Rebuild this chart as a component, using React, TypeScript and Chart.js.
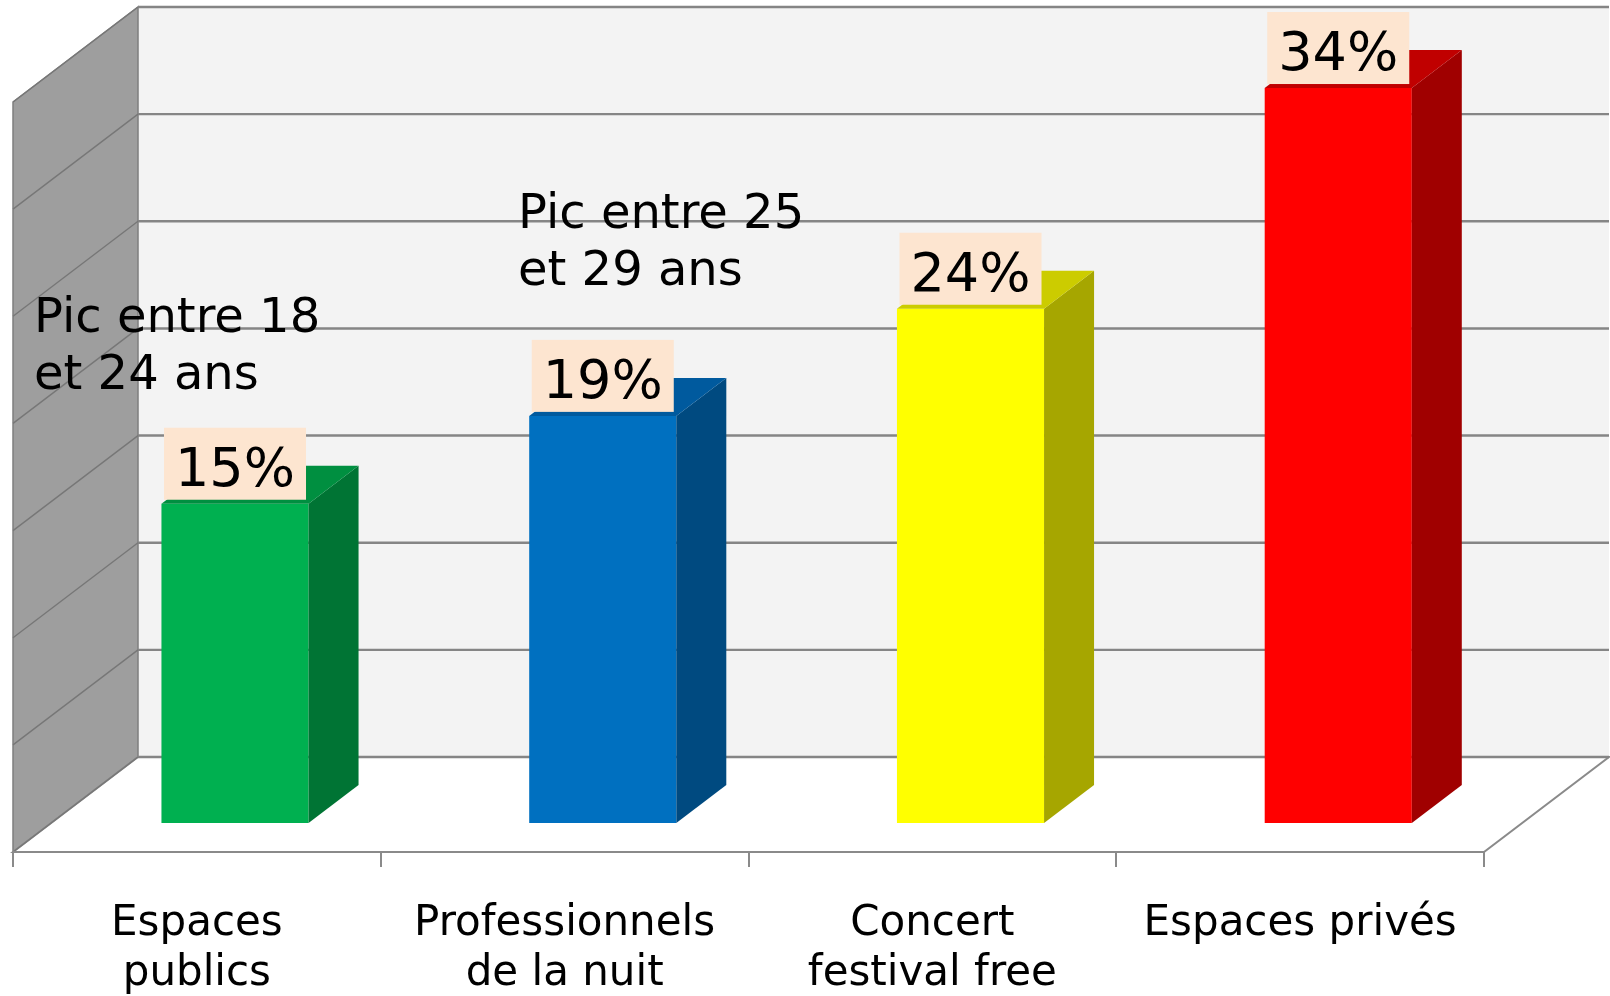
import React, { useEffect, useRef } from 'react';
import { Chart, registerables } from 'chart.js';

Chart.register(...registerables);

// ---------- data ----------
const CATEGORIES: (string | string[])[] = [
  ['Espaces', 'publics'],
  ['Professionnels', 'de la nuit'],
  ['Concert', 'festival free'],
  'Espaces privés',
];
const VALUES = [14.9, 19, 24, 34.3];
const VALUE_LABELS = ['15%', '19%', '24%', '34%'];
const ANNOTATIONS = [
  ['Pic entre 18', 'et 24 ans'],
  ['Pic entre 25', 'et 29 ans'],
];
const Y_MIN = 0;
const Y_MAX = 35;
const Y_STEP = 5;

// ---------- style ----------
const FRONT_COLORS = ['#00b050', '#0070c0', '#ffff00', '#ff0000'];
const TOP_COLORS = ['#008f40', '#005a9e', '#cccc00', '#c00000'];
const SIDE_COLORS = ['#007434', '#004a80', '#a6a600', '#a00000'];
const FONT = '"DejaVu Sans", Verdana, sans-serif';
const DEPTH = { x: 125, y: -95 }; // full depth of the 3D box
const BAR_Z = 0.305; // depth where bar front faces stand
const BAR_DEPTH = 0.4; // bar thickness (fraction of full depth)
const ANNOTATION_POS = [
  { x: 34, y: 332 },
  { x: 518, y: 228 },
];
const ANNOTATION_LINE_H = 57;

const poly = (ctx: CanvasRenderingContext2D, pts: number[][]) => {
  ctx.beginPath();
  ctx.moveTo(pts[0][0], pts[0][1]);
  for (let i = 1; i < pts.length; i++) ctx.lineTo(pts[i][0], pts[i][1]);
  ctx.closePath();
};

const threeD = {
  id: 'threeD',
  beforeDraw(chart: any) {
    const { ctx, chartArea: a } = chart;
    const ys = chart.scales.y;
    const dx = DEPTH.x;
    const dy = DEPTH.y;
    ctx.save();
    // back wall
    ctx.fillStyle = '#f3f3f3';
    ctx.fillRect(a.left + dx, a.top + dy, a.right - a.left, a.bottom - a.top);
    // side wall
    poly(ctx, [
      [a.left, a.top],
      [a.left + dx, a.top + dy],
      [a.left + dx, a.bottom + dy],
      [a.left, a.bottom],
    ]);
    ctx.fillStyle = '#9e9e9e';
    ctx.fill();
    ctx.strokeStyle = '#7f7f7f';
    ctx.lineWidth = 1.5;
    ctx.stroke();
    // floor
    poly(ctx, [
      [a.left, a.bottom],
      [a.left + dx, a.bottom + dy],
      [a.right + dx, a.bottom + dy],
      [a.right, a.bottom],
    ]);
    ctx.fillStyle = '#ffffff';
    ctx.fill();
    ctx.strokeStyle = '#8a8a8a';
    ctx.lineWidth = 2;
    ctx.stroke();
    // gridlines
    for (let v = Y_MIN; v <= Y_MAX + 1e-9; v += Y_STEP) {
      const py = ys.getPixelForValue(v);
      ctx.strokeStyle = '#858585';
      ctx.lineWidth = 2.4;
      ctx.beginPath();
      ctx.moveTo(a.left + dx, py + dy);
      ctx.lineTo(a.right + dx, py + dy);
      ctx.stroke();
      ctx.strokeStyle = '#777777';
      ctx.lineWidth = 1.4;
      ctx.beginPath();
      ctx.moveTo(a.left, py);
      ctx.lineTo(a.left + dx, py + dy);
      ctx.stroke();
    }
    ctx.restore();
  },
  beforeDatasetsDraw(chart: any) {
    chart.ctx.save();
    chart.ctx.translate(DEPTH.x * BAR_Z, DEPTH.y * BAR_Z);
  },
  afterDatasetsDraw(chart: any) {
    const ctx: CanvasRenderingContext2D = chart.ctx;
    ctx.restore();
    const meta = chart.getDatasetMeta(0);
    const ox = DEPTH.x * BAR_Z;
    const oy = DEPTH.y * BAR_Z;
    const bx = DEPTH.x * BAR_DEPTH;
    const by = DEPTH.y * BAR_DEPTH;
    ctx.save();
    meta.data.forEach((el: any, i: number) => {
      const { x, y, base, width } = el.getProps(['x', 'y', 'base', 'width'], true);
      const l = x - width / 2 + ox;
      const r = x + width / 2 + ox;
      const t = y + oy;
      const b = base + oy;
      ctx.fillStyle = SIDE_COLORS[i];
      poly(ctx, [
        [r, t],
        [r + bx, t + by],
        [r + bx, b + by],
        [r, b],
      ]);
      ctx.fill();
      ctx.fillStyle = TOP_COLORS[i];
      poly(ctx, [
        [l, t],
        [l + bx, t + by],
        [r + bx, t + by],
        [r, t],
      ]);
      ctx.fill();
      // value label
      const label = VALUE_LABELS[i];
      ctx.font = `54px ${FONT}`;
      const tw = ctx.measureText(label).width;
      const bw = tw + 22;
      const bh = 72;
      const cx = (l + r) / 2;
      const boxBottom = t - 4;
      ctx.fillStyle = '#fde5d0';
      ctx.fillRect(cx - bw / 2, boxBottom - bh, bw, bh);
      ctx.fillStyle = '#000000';
      ctx.textAlign = 'center';
      ctx.textBaseline = 'alphabetic';
      ctx.fillText(label, cx, boxBottom - 14);
    });
    // annotations
    ctx.font = `48px ${FONT}`;
    ctx.fillStyle = '#000000';
    ctx.textAlign = 'left';
    ctx.textBaseline = 'alphabetic';
    ANNOTATIONS.forEach((lines, i) => {
      const p = ANNOTATION_POS[i];
      lines.forEach((line, j) => ctx.fillText(line, p.x, p.y + j * ANNOTATION_LINE_H));
    });
    ctx.restore();
  },
};

export default function App() {
  const ref = useRef<HTMLCanvasElement | null>(null);
  useEffect(() => {
    document.body.style.margin = '0';
    const canvas = ref.current;
    if (!canvas) return;
    const chart = new Chart(canvas, {
      type: 'bar',
      data: {
        labels: CATEGORIES as any,
        datasets: [
          {
            data: VALUES,
            backgroundColor: FRONT_COLORS,
            borderWidth: 0,
            barPercentage: 0.4,
            categoryPercentage: 1,
            clip: false as any,
          },
        ],
      },
      options: {
        responsive: false,
        animation: false,
        events: [],
        layout: { padding: { left: 13, right: 126, top: 102, bottom: 0 } },
        plugins: { legend: { display: false }, tooltip: { enabled: false } },
        scales: {
          x: {
            offset: true,
            grid: {
              display: true,
              offset: true,
              drawOnChartArea: false,
              drawTicks: true,
              tickLength: 15,
              color: '#8a8a8a',
              lineWidth: 2,
            },
            border: { display: true, color: '#8a8a8a', width: 2 },
            ticks: {
              color: '#000000',
              padding: 32,
              maxRotation: 0,
              autoSkip: false,
              font: { family: FONT, size: 42, lineHeight: 50 / 42 },
            },
            afterFit: (scale: any) => {
              scale.height = 144;
            },
          },
          y: {
            display: false,
            min: Y_MIN,
            max: Y_MAX,
            ticks: { stepSize: Y_STEP },
          },
        },
      },
      plugins: [threeD],
    });
    return () => chart.destroy();
  }, []);
  return (
    <div style={{ width: 1610, height: 996, position: 'relative' }}>
      <canvas ref={ref} width={1610} height={996} style={{ width: 1610, height: 996, display: 'block' }} />
    </div>
  );
}
